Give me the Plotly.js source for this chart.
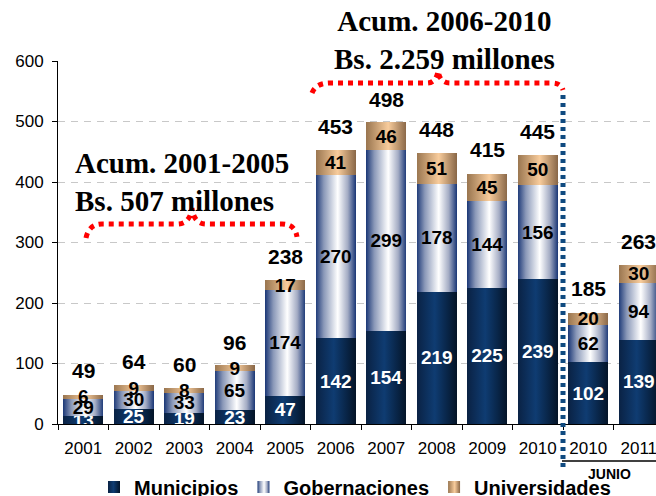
<!DOCTYPE html>
<html>
<head>
<meta charset="utf-8">
<script src="https://cdn.plot.ly/plotly-3.0.1.min.js"></script>
<style>
html,body{margin:0;padding:0;overflow:hidden;background:#fff;width:656px;height:496px;}
#chart{width:670px;height:496px;}
</style>
</head>
<body>
<div id="chart"></div>
<script>
// ---- data ----
var categories = ['2001','2002','2003','2004','2005','2006','2007','2008','2009','2010','2010-junio','2011'];
var tickLabels = ['2001','2002','2003','2004','2005','2006','2007','2008','2009','2010','2010','2011'];
var municipios     = [13, 25, 19, 23, 47, 142, 154, 219, 225, 239, 102, 139];
var gobernaciones  = [29, 30, 33, 65, 174, 270, 299, 178, 144, 156, 62, 94];
var universidades  = [6, 9, 8, 9, 17, 41, 46, 51, 45, 50, 20, 30];
var totales        = [49, 64, 60, 96, 238, 453, 498, 448, 415, 445, 185, 263];
var seriesNames    = ['Municipios', 'Gobernaciones', 'Universidades'];
var notaA = 'Acum. 2001-2005<br>Bs. 507 millones';
var notaB = 'Acum. 2006-2010<br>Bs. 2.259 millones';
var notaJunio = 'JUNIO';

// ---- geometry helpers (pixel -> paper) ----
var W = 670, H = 496, ML = 58, MR = 6, MT = 61, MB = 72;
var PW = W - ML - MR, PH = H - MT - MB;
function px(x){ return (x - ML) / PW; }
function py(y){ return (H - MB - y) / PH; }
function pathFrom(cmds){
  return cmds.map(function(c){
    var s = c[0];
    for (var i = 1; i < c.length; i += 2) s += (i > 1 ? ' ' : '') + px(c[i]).toFixed(4) + ',' + py(c[i+1]).toFixed(4);
    return s;
  }).join(' ');
}

var font = 'Liberation Sans, Arial, sans-serif';
var serif = 'Liberation Serif, Times New Roman, serif';
function barTrace(name, vals, color, txtColor){
  return {
    type: 'bar', name: name, x: categories, y: vals,
    text: vals.map(String), textposition: 'inside', insidetextanchor: 'middle',
    textangle: 0, constraintext: 'none',
    textfont: {family: font, size: 19, color: txtColor, weight: 'bold'},
    marker: {color: color, line: {width: 0}},
    hoverinfo: 'skip'
  };
}
var data = [
  barTrace(seriesNames[0], municipios, '#0d3468', '#ffffff'),
  barTrace(seriesNames[1], gobernaciones, '#c8cde0', '#000000'),
  barTrace(seriesNames[2], universidades, '#d9ad80', '#000000')
];

// total labels: x given as category index so numeric-looking names are not misread
var annotations = categories.map(function(c, i){
  return {x: i, y: totales[i], xref: 'x', yref: 'y', text: String(totales[i]),
    showarrow: false, yanchor: 'bottom', yshift: 10,
    font: {family: font, size: 21, color: '#000', weight: 'bold'}};
});
annotations.push({xref:'paper', yref:'paper', x: px(73), y: py(182), xanchor:'left', yanchor:'middle',
  align:'left', showarrow:false, text: notaA,
  font:{family: serif, size:29, color:'#000', weight:'bold'}});
annotations.push({xref:'paper', yref:'paper', x: px(444), y: py(40), xanchor:'center', yanchor:'middle',
  align:'center', showarrow:false, text: notaB,
  font:{family: serif, size:29, color:'#000', weight:'bold'}});
annotations.push({xref:'paper', yref:'paper', x: px(609), y: py(474), xanchor:'center', yanchor:'middle',
  showarrow:false, text: notaJunio, font:{family:font, size:14, color:'#000', weight:'bold'}});

var red = '#ff0000';
var shapes = [
  {type:'path', xref:'paper', yref:'paper', layer:'above',
   path: pathFrom([['M',86,238],['Q',89,224,102,224],['L',177,224],['Q',190,224,192,208],['Q',194,224,206,224],['L',282,224],['Q',295,224,297,237]]),
   line:{color:red, width:5, dash:'5px,5px'}},
  {type:'path', xref:'paper', yref:'paper', layer:'above',
   path: pathFrom([['M',312,93],['Q',316,83,330,83],['L',427,83],['Q',436,83,438,71],['Q',440,83,450,83],['L',552,83],['Q',561,83,563,90]]),
   line:{color:red, width:5, dash:'5px,5px'}},
  {type:'line', xref:'paper', yref:'paper', layer:'above',
   x0:px(563), x1:px(563), y0:py(95), y1:py(470),
   line:{color:'#0f4a80', width:5, dash:'4px,4px'}},
  {type:'line', xref:'paper', yref:'paper', layer:'above',
   x0:px(562), x1:px(670), y0:py(461), y1:py(461),
   line:{color:'#000', width:1.5}}
];

var layout = {
  width: W, height: H, autosize: false,
  margin: {l: ML, r: MR, t: MT, b: MB, pad: 0, autoexpand: false},
  paper_bgcolor: '#fff', plot_bgcolor: '#fff',
  barmode: 'stack', bargap: 0.21,
  showlegend: true, hovermode: false,
  font: {family: font, color: '#000'},
  xaxis: {
    type: 'category', tickmode: 'array', tickvals: categories, ticktext: tickLabels,
    tickson: 'boundaries', ticks: 'outside', ticklen: 5, tickcolor: '#000',
    showline: true, linecolor: '#000', linewidth: 1, showgrid: false, zeroline: false,
    tickfont: {family: font, size: 17, color: '#000'}, ticklabelstandoff: 9,
    range: [-0.5, 11.5], fixedrange: true, automargin: false
  },
  yaxis: {
    range: [0, 600], dtick: 100, tick0: 0,
    ticks: 'outside', ticklen: 5, tickcolor: '#000',
    showline: true, linecolor: '#000', linewidth: 1,
    showgrid: true, gridcolor: '#c8c8c8', gridwidth: 1, griddash: '7px,6px',
    zeroline: false, tickfont: {family: font, size: 17, color: '#000'}, ticklabelstandoff: 5,
    fixedrange: true, automargin: false
  },
  legend: {
    orientation: 'h', x: px(355), xanchor: 'center', y: py(487), yanchor: 'middle',
    traceorder: 'normal', font: {family: font, size: 20, color: '#000', weight: 'bold'},
    bgcolor: 'rgba(0,0,0,0)', itemwidth: 30
  },
  annotations: annotations,
  shapes: shapes
};

var gradients = [
  [[0,'#0a2244'],[0.45,'#0f3c72'],[1,'#041428']],
  [[0,'#1e3a78'],[0.2,'#8a98b8'],[0.55,'#ffffff'],[0.8,'#a4acc4'],[1,'#1e3a78']],
  [[0,'#9a7650'],[0.55,'#f8cc9c'],[1,'#8a6848']]
];

Plotly.newPlot('chart', data, layout, {staticPlot: true, displayModeBar: false}).then(function(gd){
  var svg = gd.querySelector('svg.main-svg');
  var ns = 'http://www.w3.org/2000/svg';
  var defs = svg.querySelector('defs');
  if (!defs) { defs = document.createElementNS(ns, 'defs'); svg.insertBefore(defs, svg.firstChild); }
  gradients.forEach(function(stops, k){
    var g = document.createElementNS(ns, 'linearGradient');
    g.setAttribute('id', 'bargrad' + k);
    g.setAttribute('x1', '0'); g.setAttribute('y1', '0'); g.setAttribute('x2', '1'); g.setAttribute('y2', '0');
    stops.forEach(function(s){
      var st = document.createElementNS(ns, 'stop');
      st.setAttribute('offset', s[0]); st.setAttribute('stop-color', s[1]);
      g.appendChild(st);
    });
    defs.appendChild(g);
  });
  var traces = gd.querySelectorAll('.barlayer .trace');
  traces.forEach(function(t, k){
    t.querySelectorAll('.point path').forEach(function(p){ p.style.fill = 'url(#bargrad' + k + ')'; });
  });
  var leg = gd.querySelectorAll('.legend .traces');
  leg.forEach(function(t, k){
    t.querySelectorAll('.legendpoints path').forEach(function(p){ p.style.fill = 'url(#bargrad' + k + ')'; });
  });
});
</script>
</body>
</html>
